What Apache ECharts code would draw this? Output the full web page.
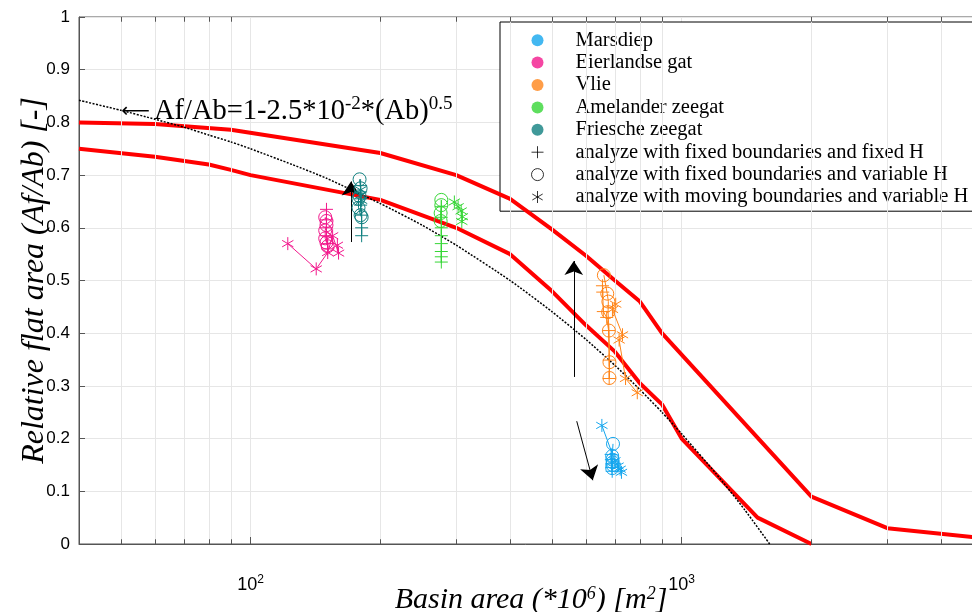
<!DOCTYPE html>
<html>
<head>
<meta charset="utf-8">
<script src="https://cdn.jsdelivr.net/npm/echarts@6/dist/echarts.min.js"></script>
<style>
  html, body { margin: 0; padding: 0; background: #ffffff; }
  #chart { width: 972px; height: 612px; }
</style>
</head>
<body>
<div id="chart"></div>
<script>
// ---- inlets and analysis methods ----
const regions = ['Marsdiep', 'Eierlandse gat', 'Vlie', 'Amelander zeegat', 'Friesche zeegat'];
const regionColors = ['#14a6ee', '#f2188c', '#ff8519', '#36d636', '#108080'];
const methods = [
  'analyze with fixed boundaries and fixed H',
  'analyze with fixed boundaries and variable H',
  'analyze with moving boundaries and variable H'
];

// ---- observations: [basin area (*10^6 m^2), relative flat area] ----
const marsdiepFixedH    = [[686, 0.17], [687, 0.16], [688, 0.152], [689, 0.145], [690, 0.138]];
const marsdiepVarH      = [[693, 0.19], [690, 0.167], [691, 0.16], [692, 0.155], [691, 0.15], [690, 0.144]];
const marsdiepMoving    = [[653, 0.225], [700, 0.158], [712, 0.148], [720, 0.142], [725, 0.136]];

const eierlandseFixedH  = [[150, 0.635], [150, 0.615], [150, 0.60], [150, 0.585], [151, 0.57], [151, 0.56]];
const eierlandseVarH    = [[149, 0.62], [150, 0.613], [150, 0.605], [149, 0.595], [149, 0.58], [150, 0.572], [151, 0.565]];
const eierlandseMoving  = [[122, 0.57], [142, 0.522], [151, 0.553], [155, 0.585], [160, 0.552], [159, 0.567]];

const vlieFixedH        = [[655, 0.49], [656, 0.478], [658, 0.441], [670, 0.43], [677, 0.405], [679, 0.349], [679, 0.314]];
const vlieVarH          = [[660, 0.51], [672, 0.475], [676, 0.46], [675, 0.44], [678, 0.405], [680, 0.345], [680, 0.315]];
const vlieMoving        = [[703, 0.455], [691, 0.445], [729, 0.397], [716, 0.387], [741, 0.314], [789, 0.287]];

const amelanderFixedH   = [[277, 0.64], [277, 0.62], [277, 0.60], [277, 0.585], [277, 0.57], [277, 0.555], [277, 0.545], [277, 0.535]];
const amelanderVarH     = [[277, 0.653], [277, 0.643], [276, 0.628], [276, 0.613]];
const amelanderMoving   = [[297, 0.649], [303, 0.64], [308, 0.632], [310, 0.621], [309, 0.612]];

const frieschFixedH     = [[180, 0.68], [180, 0.668], [180, 0.655], [180, 0.643], [181, 0.624], [181, 0.60], [181, 0.585]];
const frieschVarH       = [[179, 0.692], [180, 0.675], [179, 0.66], [178, 0.655], [178, 0.638], [180, 0.624], [181, 0.62]];
const frieschMoving     = [[180, 0.672], [180, 0.662], [181, 0.652]];

// ---- envelope curves (red) ----
const upperBoundX = [40, 60, 90, 200, 300, 400, 500, 600, 700, 800, 900, 2000, 3000, 5000];
const upperBoundY = [0.80, 0.797, 0.786, 0.742, 0.70, 0.655, 0.597, 0.547, 0.50, 0.46, 0.40, 0.09, 0.03, 0.011];
const lowerBoundX = [40, 60, 80, 90, 100, 200, 300, 400, 500, 600, 700, 800, 900, 1000, 1500, 2000];
const lowerBoundY = [0.75, 0.735, 0.72, 0.71, 0.70, 0.653, 0.60, 0.55, 0.48, 0.415, 0.365, 0.305, 0.265, 0.20, 0.05, 0];

// ---- empirical relation Af/Ab = 1 - 2.5e-2 * Ab^0.5 (dotted) ----
const empiricalX = [40, 50, 60, 70, 80, 90, 100, 125, 150, 200, 250, 300, 400, 500, 600, 700, 800, 900, 1000, 1200, 1400, 1600];
const empiricalY = [0.842, 0.823, 0.806, 0.791, 0.776, 0.763, 0.75, 0.72, 0.694, 0.646, 0.605, 0.567, 0.50, 0.441, 0.388, 0.339, 0.293, 0.25, 0.209, 0.134, 0.065, 0];

// ---- trend arrows: [from, to] ----
const trendArrows = [
  [[171, 0.573], [171, 0.688]],
  [[562, 0.317], [562, 0.537]],
  [[571, 0.233], [622, 0.121]]
];

// ---- axis decorations ----
const minorTickValues = [50, 60, 70, 80, 90, 200, 300, 400, 500, 600, 700, 800, 900, 2000, 3000, 4000];
const yTickLabels = ['0', '0.1', '0.2', '0.3', '0.4', '0.5', '0.6', '0.7', '0.8', '0.9', '1'];

const PLUS = 'path://M5,0L5,10M0,5L10,5';
const STAR = 'path://M5,0L5,10M0.67,2.5L9.33,7.5M0.67,7.5L9.33,2.5';
const methodSymbols = [PLUS, 'circle', STAR];
const methodSizes = [13, 13, 13];

const serif = '"Liberation Serif", "Times New Roman", serif';
const sans = '"Liberation Sans", Arial, sans-serif';

const zip = (xs, ys) => xs.map((x, i) => [x, ys[i]]);

const inletData = [
  [marsdiepFixedH, marsdiepVarH, marsdiepMoving],
  [eierlandseFixedH, eierlandseVarH, eierlandseMoving],
  [vlieFixedH, vlieVarH, vlieMoving],
  [amelanderFixedH, amelanderVarH, amelanderMoving],
  [frieschFixedH, frieschVarH, frieschMoving]
];

const series = [];

// background: minor grid lines and minor ticks on bottom/top frame
series.push({
  type: 'line', data: [], silent: true, z: 1,
  markLine: {
    silent: true, symbol: 'none', animation: false,
    label: { show: false },
    lineStyle: { color: '#e6e6e6', width: 1, type: 'solid' },
    data: minorTickValues.map(v => ({ xAxis: v }))
  }
});
series.push({
  type: 'line', data: [], silent: true, z: 3,
  markLine: {
    silent: true, symbol: 'none', animation: false,
    label: { show: false },
    lineStyle: { color: '#555', width: 1, type: 'solid' },
    data: minorTickValues.flatMap(v => [
      [{ coord: [v, 0] }, { coord: [v, 0.009] }],
      [{ coord: [v, 1] }, { coord: [v, 0.991] }]
    ])
  }
});

// envelopes
[[upperBoundX, upperBoundY], [lowerBoundX, lowerBoundY]].forEach(([xs, ys]) => {
  series.push({
    type: 'line', data: zip(xs, ys), symbol: 'none', silent: true, z: 4,
    lineStyle: { color: '#ff0000', width: 4 }
  });
});

// empirical curve with its annotation
series.push({
  type: 'line', data: zip(empiricalX, empiricalY), symbol: 'none', silent: true, z: 5,
  smooth: 0.2,
  lineStyle: { color: '#000', width: 1.5, type: [2, 1.5] },
  markPoint: {
    silent: true, symbol: 'circle', symbolSize: 1, animation: false,
    itemStyle: { color: 'rgba(0,0,0,0)' },
    data: [{
      coord: [50, 0.821],
      label: {
        show: true, position: 'right', distance: 0,
        formatter: '{a|\u27F5}{t|Af/Ab=1-2.5*10}{s|-2}{t|*(Ab)}{s|0.5}',
        rich: {
          a: { fontFamily: '"DejaVu Sans", sans-serif', fontSize: 20, color: '#000', lineHeight: 34, padding: [0, 4, 0, 0] },
          t: { fontFamily: serif, fontSize: 28.5, color: '#000', lineHeight: 34 },
          s: { fontFamily: serif, fontSize: 19, color: '#000', lineHeight: 19, verticalAlign: 'top' }
        }
      }
    }]
  }
});

// trend arrows
series.push({
  type: 'lines', coordinateSystem: 'cartesian2d', silent: true, z: 6,
  symbol: ['none', 'arrow'], symbolSize: [10, 14],
  lineStyle: { color: '#000', width: 1, opacity: 1 },
  itemStyle: { color: '#000' },
  data: trendArrows.map(c => ({ coords: c }))
});

// observations per inlet and method
inletData.forEach((sets, r) => {
  sets.forEach((pts, m) => {
    series.push({
      type: 'line', data: pts, z: 10,
      symbol: methodSymbols[m], symbolSize: methodSizes[m], symbolKeepAspect: true,
      showAllSymbol: true,
      itemStyle: { color: 'rgba(0,0,0,0)', borderColor: regionColors[r], borderWidth: 1 },
      lineStyle: { color: regionColors[r], width: 1 },
      emphasis: { disabled: true }
    });
  });
});

// legend entries
regions.forEach((name, r) => {
  series.push({ type: 'scatter', name, data: [], symbol: 'circle', itemStyle: { color: regionColors[r] } });
});
methods.forEach((name, m) => {
  series.push({ type: 'scatter', name, data: [], symbol: methodSymbols[m],
    itemStyle: { color: 'rgba(0,0,0,0)', borderColor: '#000', borderWidth: 1 } });
});

const legendData = regions.map((name, r) => ({
  name, icon: 'circle', itemStyle: { color: regionColors[r], borderWidth: 0 }
})).concat(methods.map((name, m) => ({
  name, icon: methodSymbols[m],
  itemStyle: { color: 'rgba(0,0,0,0)', borderColor: '#000', borderWidth: 1 }
})));

const chart = echarts.init(document.getElementById('chart'), null, { renderer: 'canvas' });
chart.setOption({
  animation: false,
  backgroundColor: '#ffffff',
  grid: {
    left: 79, top: 17, width: 904, height: 527,
    outerBoundsMode: 'none', containLabel: false,
    show: true, borderColor: '#555', borderWidth: 1, backgroundColor: 'transparent'
  },
  legend: {
    orient: 'vertical', left: 500, top: 22,
    backgroundColor: '#ffffff', borderColor: '#000', borderWidth: 1,
    padding: [7, 20, 3, 31],
    itemWidth: 40, itemHeight: 12, itemGap: 0,
    selectedMode: false,
    textStyle: { fontFamily: serif, fontSize: 20.5, color: '#000', lineHeight: 22.4, padding: [0, 0, 0, 13] },
    data: legendData
  },
  xAxis: {
    type: 'log', logBase: 10, min: 40, max: 5000,
    name: 'Basin area (*10{s|6}) [m{s|2}]',
    nameLocation: 'middle', nameGap: 41, nameMoveOverlap: false,
    nameTextStyle: {
      fontFamily: serif, fontStyle: 'italic', fontSize: 30, color: '#000',
      rich: { s: { fontFamily: serif, fontStyle: 'italic', fontSize: 18, color: '#000', verticalAlign: 'top', lineHeight: 18 } }
    },
    axisLine: { lineStyle: { color: '#555', width: 1 } },
    axisTick: { inside: true, length: 7, lineStyle: { color: '#555' } },
    splitLine: { show: true, lineStyle: { color: '#e6e6e6', width: 1 } },
    axisLabel: {
      margin: 30, showMinLabel: false, showMaxLabel: false,
      formatter: v => {
        const p = Math.log10(v);
        return Math.abs(p - Math.round(p)) < 1e-6 ? '{b|10}{e|' + Math.round(p) + '}' : '';
      },
      rich: {
        b: { fontFamily: sans, fontSize: 18, color: '#000', lineHeight: 22 },
        e: { fontFamily: sans, fontSize: 12, color: '#000', lineHeight: 12, verticalAlign: 'top' }
      }
    }
  },
  yAxis: {
    type: 'value', min: 0, max: 1, interval: 0.1,
    name: 'Relative flat area (Af/Ab) [-]',
    nameLocation: 'middle', nameGap: 28, nameRotate: 90, nameMoveOverlap: false,
    nameTextStyle: { fontFamily: serif, fontStyle: 'italic', fontSize: 32, color: '#000' },
    axisLine: { show: true, lineStyle: { color: '#555', width: 1 } },
    axisTick: { show: true, inside: true, length: 6, lineStyle: { color: '#555' } },
    splitLine: { show: true, lineStyle: { color: '#e6e6e6', width: 1 } },
    axisLabel: {
      margin: 9, fontFamily: sans, fontSize: 17, color: '#000',
      formatter: v => yTickLabels[Math.round(v * 10)]
    }
  },
  series
});
</script>
</body>
</html>
